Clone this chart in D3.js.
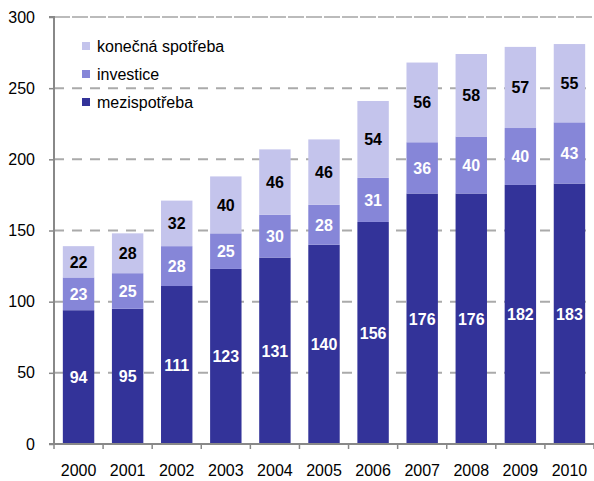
<!DOCTYPE html>
<html><head><meta charset="utf-8">
<script src="https://cdn.jsdelivr.net/npm/d3@7"></script>
<style>html,body{margin:0;padding:0;background:#fff}</style>
</head><body>
<svg id="c" width="594" height="481"></svg>
<script>
const years = ["2000","2001","2002","2003","2004","2005","2006","2007","2008","2009","2010"];
const mezispotreba = [94,95,111,123,131,140,156,176,176,182,183];
const investice = [23,25,28,25,30,28,31,36,40,40,43];
const konecna = [22,28,32,40,46,46,54,56,58,57,55];
const yTicks = [0,50,100,150,200,250,300];
const seriesNames = ["mezispotřeba","investice","konečná spotřeba"];
const colors = ["#333399","#8686d8","#c4c4ec"];
const labelColors = ["#fff","#fff","#000"];

const svg = d3.select("#c");
const m = {l:54, r:0, t:17, b:37};
const W = 594, H = 481;
const x = d3.scaleBand().domain(years).range([m.l, W - m.r]).paddingInner(0.36).paddingOuter(0.18);
const y = d3.scaleLinear().domain([0,300]).range([H - m.b, m.t]);
const font = "'Liberation Sans', Arial, sans-serif";

// gridlines
svg.append("g").selectAll("line").data(yTicks.filter(d=>d>0)).join("line")
  .attr("x1", m.l).attr("x2", W)
  .attr("y1", d=>y(d)).attr("y2", d=>y(d))
  .attr("stroke", d=> d===300 ? "#bbb" : "#aaa")
  .attr("stroke-width", 2)
  .attr("stroke-dasharray", d=> d===300 ? "16,2" : "10,8");

const table = years.map((yr,i)=>({year:yr, s0:mezispotreba[i], s1:investice[i], s2:konecna[i]}));
const stack = d3.stack().keys(["s0","s1","s2"])(table);

const g = svg.append("g");
stack.forEach((layer, li) => {
  g.append("g").selectAll("rect").data(layer).join("rect")
    .attr("x", d=>x(d.data.year))
    .attr("width", x.bandwidth())
    .attr("y", d=>y(d[1]))
    .attr("height", d=>y(d[0]) - y(d[1]))
    .attr("fill", colors[li]);
  g.append("g").selectAll("text").data(layer).join("text")
    .attr("x", d=>x(d.data.year) + x.bandwidth()/2)
    .attr("y", d=>y((d[0]+d[1])/2))
    .attr("dy", "0.36em")
    .attr("text-anchor", "middle")
    .attr("font-family", font).attr("font-size", 16).attr("font-weight", "bold")
    .attr("fill", labelColors[li])
    .text(d=>d[1]-d[0]);
});

// y axis
const yAxis = svg.append("g").attr("transform", `translate(${m.l},0)`)
  .call(d3.axisLeft(y).tickValues(yTicks).tickSize(5).tickPadding(14));
yAxis.select(".domain").attr("stroke","#888").attr("stroke-width",2).attr("d", `M-5,${y(300)}H0V${y(0)}`);
yAxis.selectAll(".tick line").attr("stroke","#888").attr("stroke-width",1.5);
yAxis.selectAll("text").attr("font-family", font).attr("font-size", 16).attr("fill","#000");

// x axis
const xAxisG = svg.append("g").attr("transform", `translate(0,${y(0)})`);
xAxisG.append("line").attr("x1", m.l-5).attr("x2", W).attr("stroke","#888").attr("stroke-width",2);
const step = x.step();
const bounds = d3.range(years.length+1).map(i => m.l + i*step);
xAxisG.selectAll("line.t").data(bounds).join("line").attr("class","t")
  .attr("x1", d=>d).attr("x2", d=>d).attr("y1",0).attr("y2",5)
  .attr("stroke","#888").attr("stroke-width",1.5);
xAxisG.selectAll("text").data(years).join("text")
  .attr("x", d=>x(d)+x.bandwidth()/2).attr("y", 26)
  .attr("dy","0.36em").attr("text-anchor","middle")
  .attr("font-family", font).attr("font-size", 16).attr("fill","#000")
  .text(d=>d);

// legend
const legend = svg.append("g");
const legendItems = [
  {name: seriesNames[2], color: colors[2], ly: 46},
  {name: seriesNames[1], color: colors[1], ly: 74},
  {name: seriesNames[0], color: colors[0], ly: 102}
];
legendItems.forEach(it => {
  legend.append("rect").attr("x", 82).attr("y", it.ly-4).attr("width", 8).attr("height", 8).attr("fill", it.color);
  legend.append("text").attr("x", 97).attr("y", it.ly).attr("dy","0.36em")
    .attr("font-family", font).attr("font-size", 16).attr("fill","#000").text(it.name);
});
</script>
</body></html>
